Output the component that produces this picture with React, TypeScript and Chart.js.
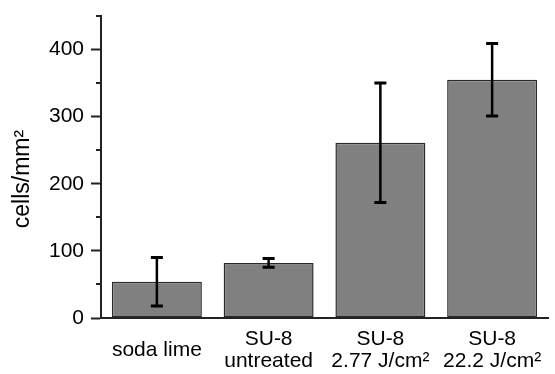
import React, { useEffect, useRef } from "react";
import { Chart, registerables } from "chart.js";

Chart.register(...registerables);

const categories: string[][] = [
  ["soda lime"],
  ["SU-8", "untreated"],
  ["SU-8", "2.77 J/cm²"],
  ["SU-8", "22.2 J/cm²"],
];
const means: number[] = [54, 82, 261, 355];
const errors: number[] = [36, 6.5, 89, 54];
const yTickValues: number[] = [0, 100, 200, 300, 400];
const yTitle = "cells/mm²";

const FONT = "'Liberation Sans', Arial, sans-serif";

const errorBarPlugin = {
  id: "errorBars",
  afterDatasetsDraw(chart: any) {
    const { ctx } = chart;
    const meta = chart.getDatasetMeta(0);
    const y = chart.scales.y;
    ctx.save();
    ctx.strokeStyle = "#000";
    meta.data.forEach((bar: any, i: number) => {
      const x = bar.x;
      const top = y.getPixelForValue(means[i] + errors[i]);
      const bot = y.getPixelForValue(means[i] - errors[i]);
      ctx.lineWidth = 2.5;
      ctx.beginPath();
      ctx.moveTo(x, top);
      ctx.lineTo(x, bot);
      ctx.stroke();
      ctx.lineWidth = 3;
      ctx.beginPath();
      ctx.moveTo(x - 6, top);
      ctx.lineTo(x + 6, top);
      ctx.moveTo(x - 6, bot);
      ctx.lineTo(x + 6, bot);
      ctx.stroke();
    });
    ctx.restore();
  },
};

const minorTickPlugin = {
  id: "minorTicks",
  afterDraw(chart: any) {
    const { ctx } = chart;
    const y = chart.scales.y;
    const left = chart.chartArea.left;
    ctx.save();
    ctx.strokeStyle = "#222";
    ctx.lineWidth = 2;
    y.ticks.forEach((t: any) => {
      if (yTickValues.includes(t.value)) return;
      const py = Math.round(y.getPixelForValue(t.value));
      ctx.beginPath();
      ctx.moveTo(left - 5, py);
      ctx.lineTo(left, py);
      ctx.stroke();
    });
    ctx.restore();
  },
};

const yTitlePlugin = {
  id: "yTitle",
  afterDraw(chart: any) {
    const { ctx } = chart;
    const area = chart.chartArea;
    ctx.save();
    ctx.translate(23, (area.top + area.bottom) / 2 + 12);
    ctx.rotate(-Math.PI / 2);
    ctx.font = `23px ${FONT}`;
    ctx.fillStyle = "#000";
    ctx.textAlign = "center";
    ctx.textBaseline = "middle";
    ctx.fillText(yTitle, 0, 0);
    ctx.restore();
  },
};

export default function App() {
  const ref = useRef<HTMLCanvasElement | null>(null);
  useEffect(() => {
    if (!ref.current) return;
    const chart = new Chart(ref.current, {
      type: "bar",
      data: {
        labels: categories,
        datasets: [
          {
            data: means,
            backgroundColor: "#808080",
            borderColor: "#2a2a2a",
            borderWidth: 1.5,
            borderSkipped: false,
            barPercentage: 0.805,
            categoryPercentage: 1,
          },
        ],
      },
      options: {
        animation: false,
        responsive: true,
        maintainAspectRatio: false,
        layout: { padding: { top: 16, right: 7, left: 0, bottom: 0 } },
        plugins: {
          legend: { display: false },
          tooltip: { enabled: false },
        },
        scales: {
          x: {
            grid: { display: true, drawOnChartArea: false, drawTicks: false },
            border: { display: true, color: "#222", width: 2 },
            ticks: {
              color: "#000",
              font: { family: FONT, size: 21, lineHeight: 1.05 },
              padding: 21,
              crossAlign: "center",
              maxRotation: 0,
              autoSkip: false,
            },
            afterFit: (s: any) => {
              s.height = 56;
              s.paddingLeft = 0;
              s.paddingRight = 0;
            },
          },
          y: {
            min: 0,
            max: 450,
            grid: {
              display: true,
              drawOnChartArea: false,
              tickLength: 10,
              tickWidth: 2,
              tickColor: (c: any) =>
                c.tick && yTickValues.includes(c.tick.value) ? "#222" : "rgba(0,0,0,0)",
            },
            border: { display: true, color: "#222", width: 2 },
            ticks: {
              stepSize: 50,
              color: "#000",
              font: { family: FONT, size: 21 },
              padding: 7,
              callback: (v: any) => (yTickValues.includes(Number(v)) ? String(v) : ""),
            },
            afterFit: (s: any) => {
              s.width = 101;
              s.paddingTop = 0;
              s.paddingBottom = 0;
            },
          },
        },
      },
      plugins: [errorBarPlugin, minorTickPlugin, yTitlePlugin],
    });
    return () => chart.destroy();
  }, []);
  return (
    <div style={{ position: "absolute", left: 0, top: 0, width: 555, height: 374 }}>
      <canvas ref={ref} />
    </div>
  );
}
